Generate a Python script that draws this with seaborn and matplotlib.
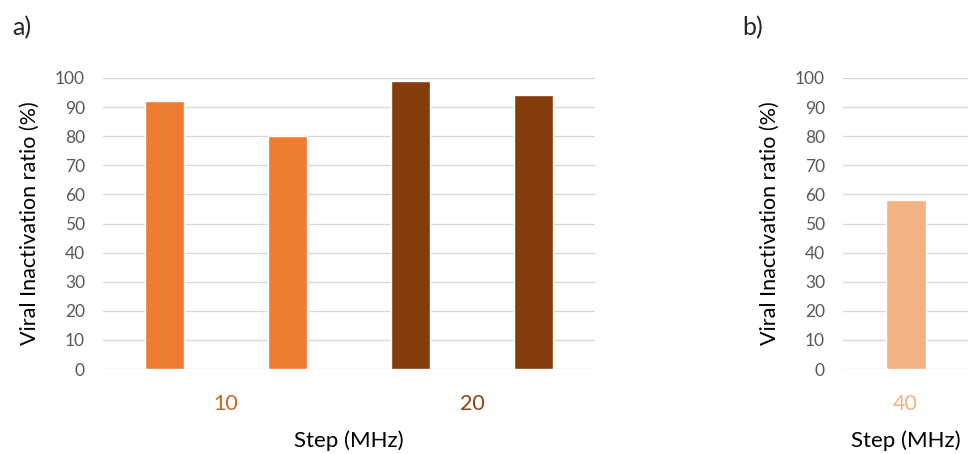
import matplotlib
matplotlib.use("Agg")
import matplotlib.pyplot as plt
import seaborn as sns
import pandas as pd

# Viral inactivation ratio (%) per run, grouped by frequency step (MHz)
steps_a = ["10", "10", "20", "20"]
values_a = [92, 80, 99, 94]
steps_b = ["40"]
values_b = [58]

step_colors = {"10": "#ED7D31", "20": "#843C0C", "40": "#F4B183"}
label_colors = {"10": "#C96520", "20": "#8A4412", "40": "#F4B183"}
y_ticks = list(range(0, 101, 10))

sns.set_theme(style="white")
plt.rcParams["font.family"] = ["Lato", "DejaVu Sans"]

fig = plt.figure(figsize=(9.7, 4.54), dpi=100)
ax_a = fig.add_axes([0.1062, 0.1872, 0.5072, 0.641])
ax_b = fig.add_axes([0.8691, 0.1872, 0.1289, 0.641])

df_a = pd.DataFrame({"run": [f"r{i}" for i in range(len(values_a))],
                     "step": steps_a, "value": values_a})
df_b = pd.DataFrame({"run": ["r0"], "step": steps_b, "value": values_b})


def style_axis(ax, n_bars):
    ax.set_ylim(0, 100)
    ax.set_xlim(-0.5, n_bars - 0.5)
    ax.set_yticks(y_ticks)
    ax.yaxis.grid(True, color="#D9D9D9", linewidth=1.0)
    ax.set_axisbelow(True)
    for s in ax.spines.values():
        s.set_visible(False)
    ax.tick_params(axis="y", length=0, pad=13, labelsize=12.5, labelcolor="#595959")
    ax.tick_params(axis="x", length=0, pad=18, labelsize=15.5)
    ax.set_ylabel("Viral Inactivation ratio (%)", fontsize=15.5, color="black", labelpad=11)
    ax.set_xlabel("Step (MHz)", fontsize=16, color="black", labelpad=12)
    leg = ax.get_legend()
    if leg is not None:
        leg.remove()


sns.barplot(data=df_a, x="run", y="value", hue="step", palette=step_colors,
            width=0.325, dodge=False, saturation=1, ax=ax_a)
style_axis(ax_a, len(values_a))
groups_a = list(dict.fromkeys(steps_a))
centers_a = [sum(i for i, s in enumerate(steps_a) if s == g) / steps_a.count(g) for g in groups_a]
ax_a.set_xticks(centers_a)
ax_a.set_xticklabels(groups_a)
for lbl, g in zip(ax_a.get_xticklabels(), groups_a):
    lbl.set_color(label_colors[g])

sns.barplot(data=df_b, x="run", y="value", hue="step", palette=step_colors,
            width=0.32, dodge=False, saturation=1, ax=ax_b)
style_axis(ax_b, len(values_b))
ax_b.set_xticks([0])
ax_b.set_xticklabels(steps_b)
ax_b.get_xticklabels()[0].set_color(label_colors["40"])

fig.text(0.013, 0.94, "a)", fontsize=18, va="center", ha="left")
fig.text(0.765, 0.94, "b)", fontsize=18, va="center", ha="left")

fig.savefig("out.png", dpi=100)
